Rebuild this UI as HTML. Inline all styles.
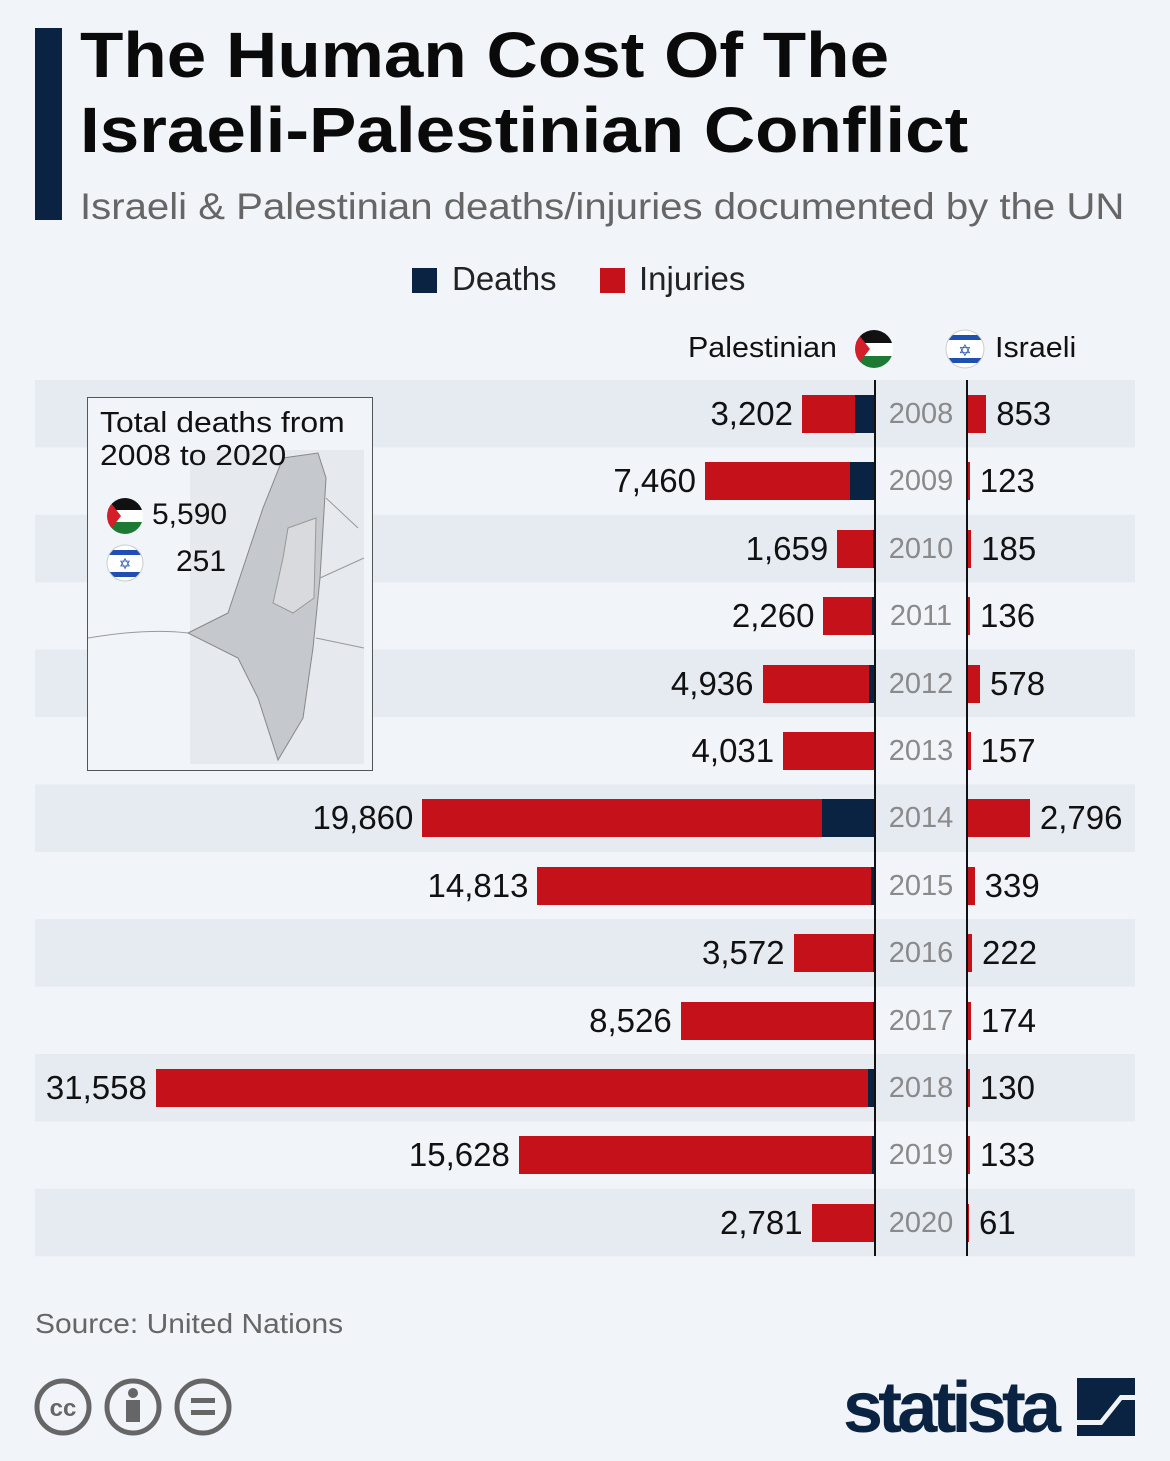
<!DOCTYPE html>
<html><head><meta charset="utf-8"><style>
body{margin:0;width:1170px;height:1461px;background:#f1f4f9;font-family:"Liberation Sans",sans-serif;position:relative;overflow:hidden}
.a{position:absolute}
.t{left:80px;font-size:64px;font-weight:bold;color:#0a0a0a;line-height:1;white-space:nowrap;transform:scaleX(1.11);transform-origin:0 0}
.v{font-size:33px;color:#111;line-height:38px;white-space:nowrap}
.y{font-size:29px;color:#8a8a8a;line-height:38px;width:92px;text-align:center;left:875px}
</style></head><body>
<div class="a" style="left:35px;top:28px;width:27px;height:192px;background:#0b2342"></div>
<div class="a t" style="top:23px">The Human Cost Of The</div>
<div class="a t" style="top:98px">Israeli-Palestinian Conflict</div>
<div class="a" style="left:80px;top:186px;font-size:37px;color:#666;white-space:nowrap;transform:scaleX(1.085);transform-origin:0 0">Israeli &amp; Palestinian deaths/injuries documented by the UN</div>
<div class="a" style="left:412px;top:268px;width:25px;height:25px;background:#0b2342"></div>
<div class="a" style="left:452px;top:260px;font-size:33px;color:#222">Deaths</div>
<div class="a" style="left:600px;top:268px;width:25px;height:25px;background:#c4111a"></div>
<div class="a" style="left:639px;top:260px;font-size:33px;color:#222">Injuries</div>
<div class="a" style="left:688px;top:332px;font-size:29px;color:#111;transform:scaleX(1.05);transform-origin:0 0">Palestinian</div>
<div class="a" style="left:995px;top:332px;font-size:29px;color:#111;transform:scaleX(1.05);transform-origin:0 0">Israeli</div>
<svg class="a" style="left:0;top:0" width="1170" height="1461">
<defs>
<clipPath id="c1"><circle cx="874" cy="349" r="19"/></clipPath>
<clipPath id="c2"><circle cx="965" cy="349" r="19"/></clipPath>
</defs>
<g clip-path="url(#c1)"><rect x="855" y="330" width="38" height="13" fill="#111"/><rect x="855" y="343" width="38" height="13" fill="#fff"/><rect x="855" y="356" width="38" height="13" fill="#1d7a34"/><polygon points="855,330 870,349 855,368" fill="#d21f2a"/></g>
<g clip-path="url(#c2)"><rect x="946" y="330" width="38" height="38" fill="#fff"/><rect x="946" y="335" width="38" height="5" fill="#1f4fb0"/><rect x="946" y="358" width="38" height="5" fill="#1f4fb0"/><text x="965" y="356" font-size="16" fill="#1f4fb0" text-anchor="middle">✡</text></g>
<circle cx="965" cy="349" r="19" fill="none" stroke="#ccc"/>
<g id="bands"></g>
</svg>
<div id="rows"></div>
<div class="a" style="left:87px;top:397px;width:284px;height:372px;border:1.5px solid #555;background:#f1f4f9;overflow:hidden">
<svg class="a" style="left:0;top:0" width="284" height="372">
<defs>
<clipPath id="c3"><circle cx="37" cy="118" r="18"/></clipPath>
<clipPath id="c4"><circle cx="37" cy="165" r="18"/></clipPath>
</defs>
<rect x="102" y="52" width="174" height="314" fill="#e6e9ed"/>
<polygon points="100,235 140,215 155,170 175,110 195,60 230,55 238,80 232,180 225,250 215,320 190,362 170,300 150,260" fill="#c5c8cc" stroke="#888" stroke-width="1"/>
<polygon points="200,130 228,120 226,200 205,215 185,205 195,160" fill="#d8dadd" stroke="#999"/>
<path d="M0,240 Q60,230 100,235" stroke="#999" fill="none"/>
<path d="M238,100 L270,130 M232,180 L276,160 M228,240 L276,250" stroke="#999" fill="none"/>
<g clip-path="url(#c3)"><rect x="19" y="100" width="36" height="12" fill="#111"/><rect x="19" y="112" width="36" height="12" fill="#fff"/><rect x="19" y="124" width="36" height="12" fill="#1d7a34"/><polygon points="19,100 33,118 19,136" fill="#d21f2a"/></g>
<g clip-path="url(#c4)"><rect x="19" y="147" width="36" height="36" fill="#fff"/><rect x="19" y="152" width="36" height="5" fill="#1f4fb0"/><rect x="19" y="174" width="36" height="5" fill="#1f4fb0"/><text x="37" y="171" font-size="15" fill="#1f4fb0" text-anchor="middle">✡</text></g>
<circle cx="37" cy="165" r="18" fill="none" stroke="#ccc"/>
</svg>
<div class="a" style="left:12px;top:9px;font-size:29px;line-height:33px;color:#111;white-space:nowrap;transform:scaleX(1.1);transform-origin:0 0">Total deaths from<br>2008 to 2020</div>
<div class="a" style="left:64px;top:100px;font-size:30px;color:#111">5,590</div>
<div class="a" style="left:88px;top:147px;font-size:30px;color:#111">251</div>
</div>
<div class="a" style="left:874px;top:380px;width:2px;height:876px;background:#111"></div>
<div class="a" style="left:966px;top:380px;width:2px;height:876px;background:#111"></div>
<div class="a" style="left:35px;top:1308px;font-size:28px;color:#666;transform:scaleX(1.07);transform-origin:0 0">Source: United Nations</div>
<svg class="a" style="left:0;top:1370px" width="1170" height="80">
<g fill="none" stroke="#666" stroke-width="5"><circle cx="63" cy="37" r="26"/><circle cx="133" cy="37" r="26"/><circle cx="203" cy="37" r="26"/></g>
<text x="63" y="46" font-size="24" font-weight="bold" fill="#666" text-anchor="middle" font-family="Liberation Sans">cc</text>
<circle cx="133" cy="23" r="5" fill="#666"/><rect x="126" y="30" width="14" height="22" fill="#666"/>
<rect x="191" y="28" width="24" height="5" fill="#666"/><rect x="191" y="40" width="24" height="5" fill="#666"/>
<text x="843" y="62" font-size="72" font-weight="bold" fill="#0b2342" font-family="Liberation Sans" textLength="218">statista</text>
<rect x="1077" y="8" width="58" height="58" fill="#0b2342"/>
<path d="M1077,50 L1100,50 L1120,25 L1135,25 L1135,30 L1122,30 L1102,55 L1077,55Z" fill="#f1f4f9"/>
</svg>
<script>
var d=[[2008,3202,20,853],[2009,7460,25,123],[2010,1659,2,185],[2011,2260,3,136],[2012,4936,6,578],[2013,4031,1,157],[2014,19860,53,2796],[2015,14813,4,339],[2016,3572,2,222],[2017,8526,2,174],[2018,31558,7,130],[2019,15628,3,133],[2020,2781,1,61]];
var h='',b='';
d.forEach(function(r,i){var c=414+67.4*i,t=c-19;
if(i%2==0)b+='<rect x="35" y="'+(c-34)+'" width="1100" height="67.4" fill="#e6eaf1"/>';
var w=r[1]*0.02279,iw=Math.max(r[3]*0.0225,2);
h+='<div class="a" style="left:'+(875-w)+'px;top:'+t+'px;width:'+w+'px;height:38px;background:#c4111a"></div>';
h+='<div class="a" style="left:'+(875-r[2])+'px;top:'+t+'px;width:'+r[2]+'px;height:38px;background:#0b2342"></div>';
h+='<div class="a v" style="right:'+(1170-(875-w)+9)+'px;top:'+t+'px">'+r[1].toLocaleString('en-US')+'</div>';
h+='<div class="a y" style="top:'+t+'px">'+r[0]+'</div>';
h+='<div class="a" style="left:967px;top:'+t+'px;width:'+iw+'px;height:38px;background:#c4111a"></div>';
h+='<div class="a v" style="left:'+(967+iw+10)+'px;top:'+t+'px">'+r[3].toLocaleString('en-US')+'</div>';
});
document.getElementById('bands').innerHTML=b;
document.getElementById('rows').innerHTML=h;
</script>
</body></html>
